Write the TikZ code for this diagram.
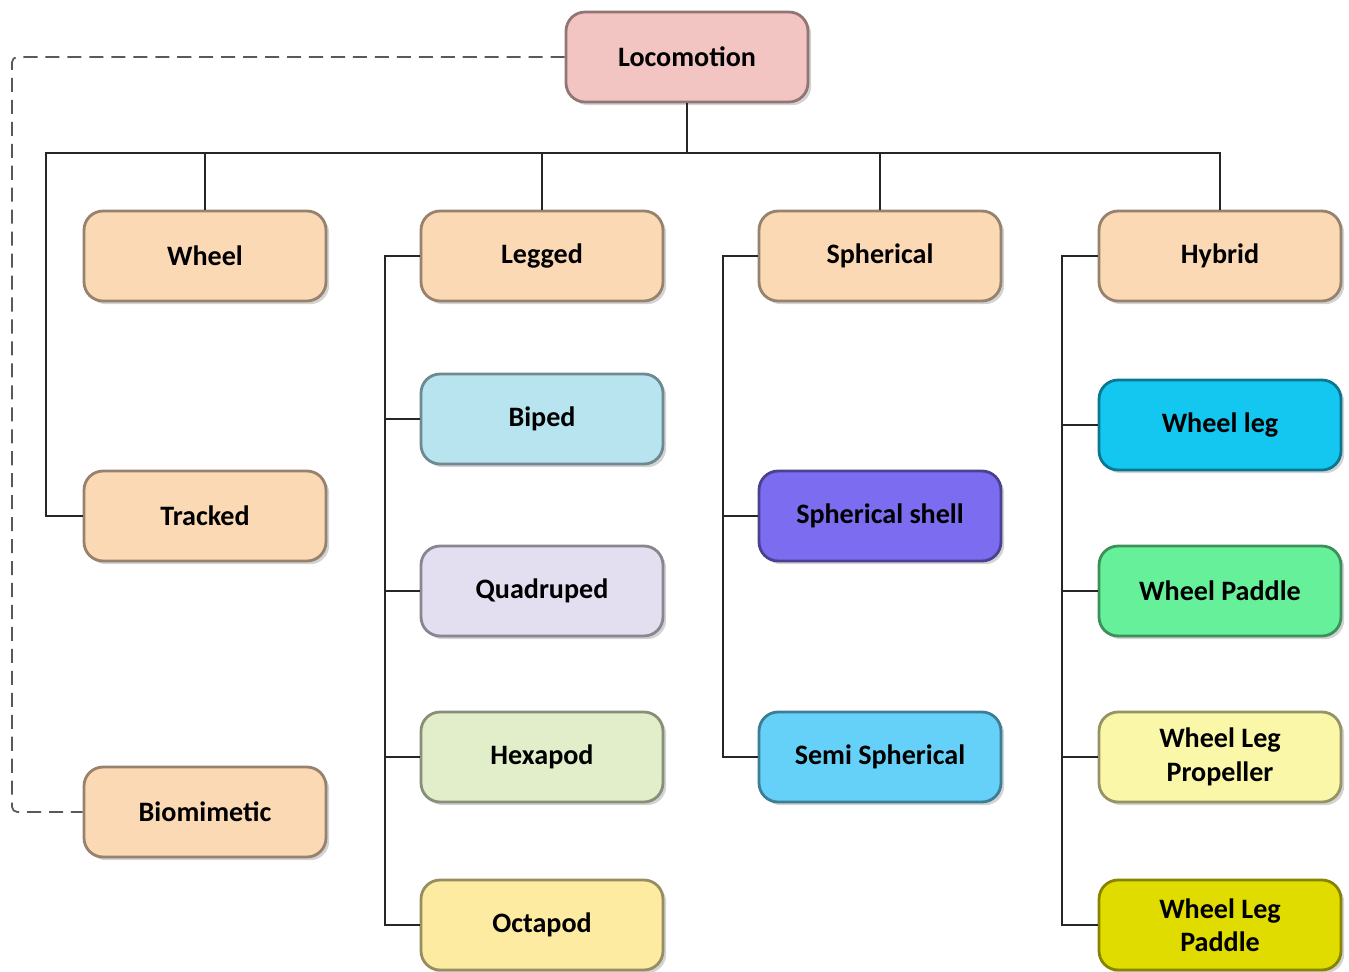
\documentclass[tikz,border=0pt]{standalone}
\usepackage{fontspec}
\setmainfont{Carlito}
\usepackage{tikz}
\usetikzlibrary{shadows}

\definecolor{rootpink}{RGB}{242,196,194}
\definecolor{peach}{RGB}{251,217,181}
\definecolor{bipedblue}{RGB}{184,228,240}
\definecolor{quadlilac}{RGB}{228,223,240}
\definecolor{hexagreen}{RGB}{226,238,201}
\definecolor{octayellow}{RGB}{252,235,160}
\definecolor{shellviolet}{RGB}{123,108,240}
\definecolor{semisky}{RGB}{102,209,248}
\definecolor{wlcyan}{RGB}{19,199,240}
\definecolor{wpgreen}{RGB}{102,240,154}
\definecolor{wlppale}{RGB}{250,247,168}
\definecolor{wlpolive}{RGB}{224,220,0}

\tikzset{
  box/.style={rounded corners=0.38cm, minimum width=4.84cm, minimum height=1.8cm,
    fill=#1, draw=#1!60!black, line width=1.6pt, align=center,
    drop shadow={opacity=0.35, shadow xshift=1.8pt, shadow yshift=-1.8pt},
    font=\bfseries\fontsize{16}{19}\selectfont},
  branch/.style={line width=1.1pt, color=black!85},
  dashline/.style={dashed, dash pattern=on 8pt off 4.5pt, line width=1pt, color=black!65, rounded corners=3pt}
}

\begin{document}
\begin{tikzpicture}[x=0.02cm, y=-0.02cm]
  \useasboundingbox (0,0) rectangle (1349,971);

  % root and first level
  \node[box=rootpink] (loco) at (687,57) {Locomotion};
  \node[box=peach] (wheel) at (205,256) {Wheel};
  \node[box=peach] (legged) at (542,256) {Legged};
  \node[box=peach] (spherical) at (880,256) {Spherical};
  \node[box=peach] (hybrid) at (1220,256) {Hybrid};
  \node[box=peach] (tracked) at (205,516) {Tracked};
  \node[box=peach] (biomimetic) at (205,812) {Biomimetic};

  % legged
  \node[box=bipedblue] (biped) at (542,419) {Biped};
  \node[box=quadlilac] (quadruped) at (542,591) {Quadruped};
  \node[box=hexagreen] (hexapod) at (542,757) {Hexapod};
  \node[box=octayellow] (octapod) at (542,925) {Octapod};

  % spherical
  \node[box=shellviolet] (shell) at (880,516) {Spherical shell};
  \node[box=semisky] (semi) at (880,757) {Semi Spherical};

  % hybrid
  \node[box=wlcyan] (wheelleg) at (1220,425) {Wheel leg};
  \node[box=wpgreen] (wheelpaddle) at (1220,591) {Wheel Paddle};
  \node[box=wlppale] (wlprop) at (1220,757) {Wheel Leg\\Propeller};
  \node[box=wlpolive] (wlpaddle) at (1220,925) {Wheel Leg\\Paddle};

  \coordinate (bus) at (46,153);
  \coordinate (dl) at (12,0);

  % connectors
  \draw[branch] (loco.south) -- (loco.south |- bus);
  \foreach \n in {wheel,legged,spherical,hybrid}
    \draw[branch] (loco.south |- bus) -| (\n.north);
  \draw[branch] (loco.south |- bus) -- (bus) |- (tracked.west);

  \foreach \n in {biped,quadruped,hexapod,octapod}
    \draw[branch] (legged.west) -- ++(-35,0) |- (\n.west);
  \foreach \n in {shell,semi}
    \draw[branch] (spherical.west) -- ++(-35,0) |- (\n.west);
  \foreach \n in {wheelleg,wheelpaddle,wlprop,wlpaddle}
    \draw[branch] (hybrid.west) -- ++(-36,0) |- (\n.west);

  \draw[dashline] (loco.west) -- (loco.west -| dl) |- (biomimetic.west);
\end{tikzpicture}
\end{document}
